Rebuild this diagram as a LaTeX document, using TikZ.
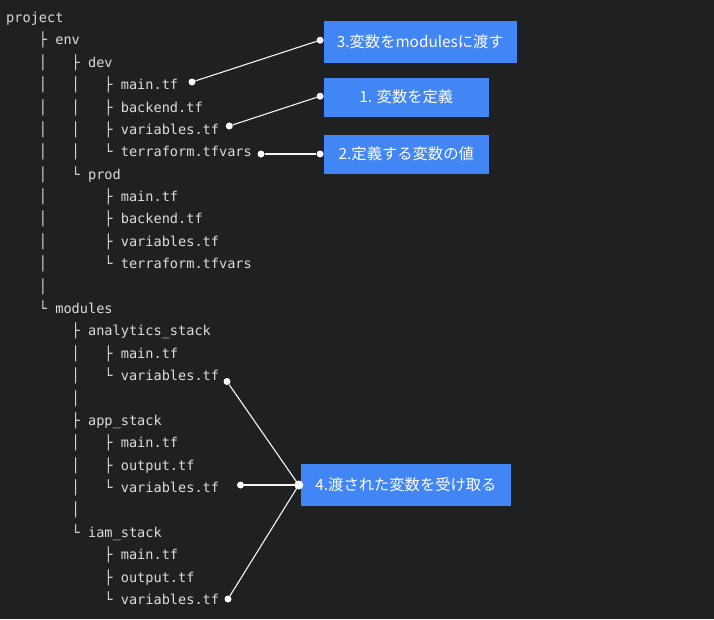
\documentclass[tikz,border=0pt]{standalone}
\usepackage{fontspec}
\newfontfamily\treefont{DejaVu Sans Mono}
\newfontfamily\jpfont{Noto Sans CJK JP}
\usetikzlibrary{positioning}
\definecolor{bg}{HTML}{1F2021}
\definecolor{fg}{HTML}{DCDCDC}
\definecolor{noteblue}{HTML}{4285F4}
\tikzset{
	ln/.style={anchor=west,inner sep=0,text=fg,text height=7.4pt,text depth=0pt,font=\treefont\fontsize{13.6}{16}\selectfont},
	note/.style={fill=noteblue,text=white,font=\jpfont\fontsize{15.3}{18}\selectfont},
	dot/.style={circle,fill=white,inner sep=0,minimum size=7pt},
	wire/.style={draw=white!92!gray,line width=1.1pt}
}

\begin{document}
\begin{tikzpicture}[x=1pt,y=-1pt]
			\fill[bg] (0,0) rectangle (714,619);
			\useasboundingbox (0,0) rectangle (714,619);
			
			% the tree, one line per node
			\foreach \t [count=\i] in {project,
				~~~~├~env,
				~~~~│~~~├~dev,
				~~~~│~~~│~~~├~main.tf,
				~~~~│~~~│~~~├~backend.tf,
				~~~~│~~~│~~~├~variables.tf,
				~~~~│~~~│~~~└~terraform.tfvars,
				~~~~│~~~└~prod,
				~~~~│~~~~~~~├~main.tf,
				~~~~│~~~~~~~├~backend.tf,
				~~~~│~~~~~~~├~variables.tf,
				~~~~│~~~~~~~└~terraform.tfvars,
				~~~~│,
				~~~~└~modules,
				~~~~~~~~├~analytics\_stack,
				~~~~~~~~│~~~├~main.tf,
				~~~~~~~~│~~~└~variables.tf,
				~~~~~~~~│,
				~~~~~~~~├~app\_stack,
				~~~~~~~~│~~~├~main.tf,
				~~~~~~~~│~~~├~output.tf,
				~~~~~~~~│~~~└~variables.tf,
				~~~~~~~~│,
				~~~~~~~~└~iam\_stack,
				~~~~~~~~~~~~├~main.tf,
				~~~~~~~~~~~~├~output.tf,
				~~~~~~~~~~~~└~variables.tf}
				\node[ln] (l\i) at (6,{18.8+(\i-1)*22.385}) {\t};
			
			\node[note,minimum width=193pt,minimum height=42pt] (n3) at (420.3,41.7) {3.変数をmodulesに渡す};
			\node[note,minimum width=165pt,minimum height=39pt] (n1) at (406.3,97.2) {1. 変数を定義};
			\node[note,minimum width=165pt,minimum height=39pt] (n2) at (406.3,154) {2.定義する変数の値};
			\node[note,minimum width=210pt,minimum height=42pt] (n4) at (406,485) {4.渡された変数を受け取る};
			
			\node[dot] (p1) at (192,82) {};
			\node[dot] (p2) at (229.3,126) {};
			\node[dot] (p3) at (261,154) {};
			\node[dot] (p4) at (227,381.5) {};
			\node[dot] (p5) at (240.5,485) {};
			\node[dot] (p6) at (228,599) {};
			\node[dot] (q3) at ([xshift=-3.5pt,yshift=1.5pt]n3.west) {};
			\node[dot] (q1) at ([xshift=-3.5pt,yshift=1pt]n1.west) {};
			\node[dot] (q2) at ([xshift=-3.5pt]n2.west) {};
			\node[dot,minimum size=9pt] (q4) at ([xshift=-2pt]n4.west) {};
			
			\draw[wire] (p1) -- (q3);
			\draw[wire] (p2) -- (q1);
			\draw[wire] (p3) -- (q2);
			\draw[wire] (p4) -- (q4.center);
			\draw[wire] (p5) -- (q4.center);
			\draw[wire] (p6) -- (q4.center);
		\end{tikzpicture}
\end{document}
